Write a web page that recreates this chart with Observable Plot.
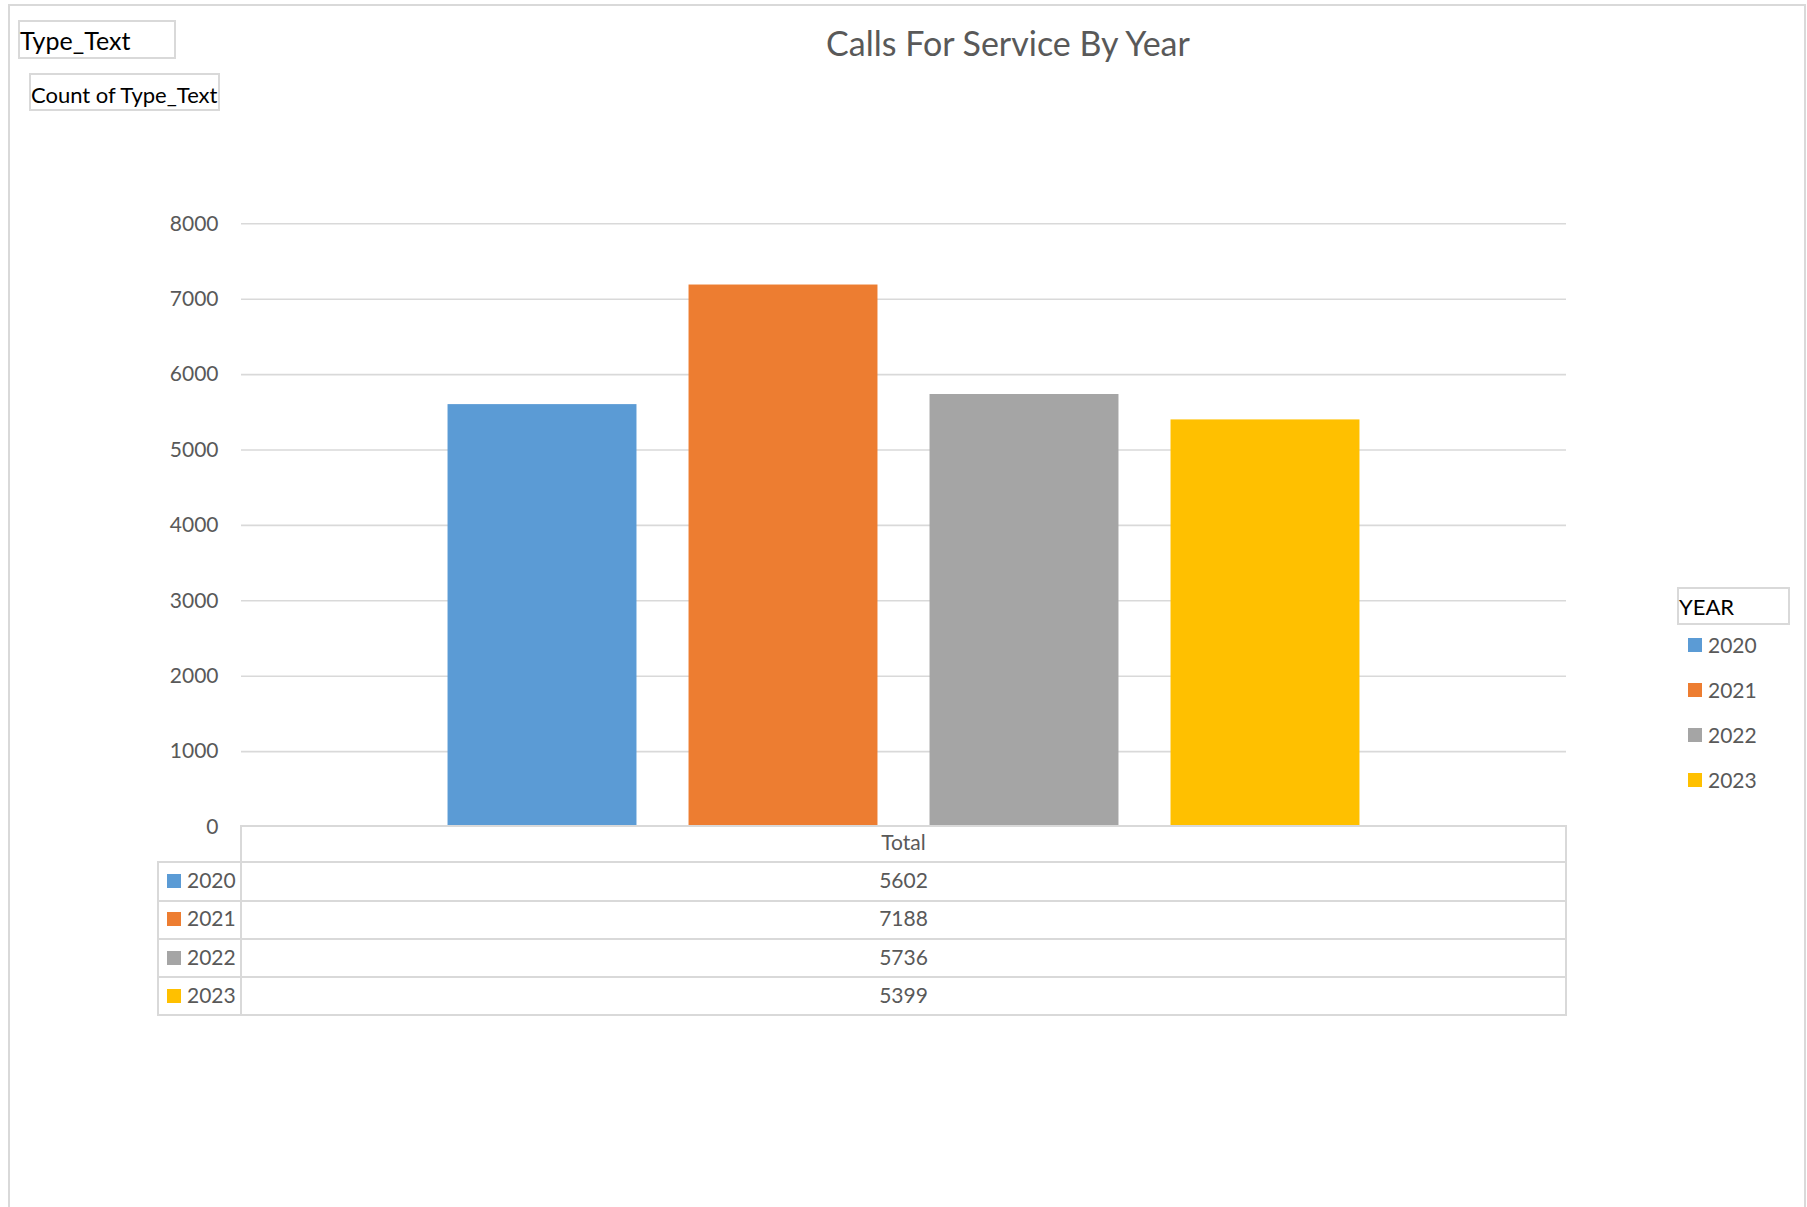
<!DOCTYPE html>
<html><head><meta charset="utf-8">
<script src="https://cdn.jsdelivr.net/npm/d3@7"></script>
<script src="https://cdn.jsdelivr.net/npm/@observablehq/plot@0.6"></script>
<style>
body{margin:0;background:#fff;font-family:Lato,"Open Sans",sans-serif;}
#wrap{position:relative;width:1807px;height:1207px;overflow:hidden;background:#fff;}
.abs{position:absolute;box-sizing:border-box;}
.frame{left:8px;top:4px;width:1798px;height:1300px;border:2px solid #d9d9d9;border-bottom:none;}
.fieldbox{border:2px solid #d9d9d9;color:#000;white-space:nowrap;display:flex;align-items:center;}
#title{left:0;width:2016px;top:21px;text-align:center;color:#595959;font-size:34px;line-height:44px;}
table.dt{position:absolute;left:157px;top:825px;border-collapse:collapse;font-size:21px;color:#595959;}
table.dt td{border:2px solid #d9d9d9;padding:0;height:36.3px;}
table.dt td.empty{border:none;}
table.dt td.val{text-align:center;}
table.dt .in{position:relative;top:-2px;}
.key{display:inline-block;width:14px;height:14px;vertical-align:middle;margin:0 6px 3px 8px;}
.leg{color:#595959;font-size:21px;display:flex;align-items:center;}
.leg .key{margin:0 6px 0 0;}
svg{position:absolute;left:0;top:0;}
</style></head><body><div id="wrap"></div>
<script>
const years = ["2020", "2021", "2022", "2023"];
const counts = [5602, 7188, 5736, 5399];
const colors = ["#5b9bd5", "#ed7d31", "#a5a5a5", "#ffc000"];
const yTicks = [0, 1000, 2000, 3000, 4000, 5000, 6000, 7000, 8000];
const title = "Calls For Service By Year";
const categoryLabel = "Total";
const filterField = "Type_Text";
const valueField = "Count of Type_Text";
const legendTitle = "YEAR";

const data = years.map((y, i) => ({year: y, count: counts[i]}));
const wrap = document.getElementById("wrap");

const frame = document.createElement("div");
frame.className = "abs frame";
wrap.appendChild(frame);

const chart = Plot.plot({
  width: 1807,
  height: 1207,
  marginTop: 223.3,
  marginBottom: 380.5,
  marginLeft: 241,
  marginRight: 241,
  x: {domain: years, paddingInner: 0.216, paddingOuter: 0.857, round: false, axis: null},
  y: {domain: [0, 8000], ticks: yTicks, tickSize: 0, tickPadding: 23, label: null, tickFormat: d => String(d)},
  color: {domain: years, range: colors},
  style: {fontFamily: "Lato, 'Open Sans', sans-serif", fontSize: "21px", color: "#595959", background: "transparent"},
  marks: [
    Plot.gridY(yTicks.filter(v => v > 0), {stroke: "#d9d9d9", strokeOpacity: 1, strokeWidth: 1.6}),
    Plot.barY(data, {x: "year", y: "count", fill: "year"})
  ]
});
wrap.appendChild(chart);

function box(cls, css, html) {
  const d = document.createElement("div");
  d.className = "abs " + cls;
  Object.assign(d.style, css);
  d.innerHTML = html;
  wrap.appendChild(d);
  return d;
}

const t = box("", {}, "");
t.id = "title";
t.textContent = title;

box("fieldbox", {left: "18px", top: "20px", width: "158px", height: "39px", fontSize: "25px", paddingLeft: "0px"}, filterField);
box("fieldbox", {left: "29px", top: "73px", width: "191px", height: "38px", fontSize: "22px", paddingLeft: "0px", paddingTop: "5px"}, valueField);

// legend
box("fieldbox", {left: "1677px", top: "587px", width: "113px", height: "38px", fontSize: "22px", paddingLeft: "0px"}, legendTitle);
years.forEach((y, i) => {
  box("leg", {left: "1688px", top: (632.5 + i * 45) + "px", height: "24px"},
    `<span class="key" style="background:${colors[i]}"></span>${y}`);
});

// data table
const tbl = document.createElement("table");
tbl.className = "dt";
let html = `<tr><td class="empty" style="width:82px;height:34.3px"></td><td class="val" style="width:1323px;height:34.3px"><span class="in" style="top:-3px">${categoryLabel}</span></td></tr>`;
years.forEach((y, i) => {
  html += `<tr><td><span class="in"><span class="key" style="background:${colors[i]}"></span>${y}</span></td><td class="val"><span class="in">${counts[i]}</span></td></tr>`;
});
tbl.innerHTML = html;
wrap.appendChild(tbl);
</script>
</body></html>
